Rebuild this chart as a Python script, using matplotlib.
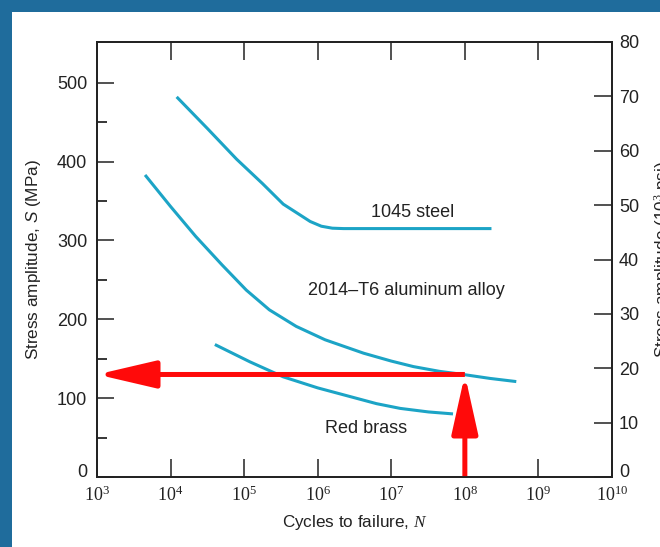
import numpy as np
import matplotlib
matplotlib.use("Agg")
import matplotlib.pyplot as plt
import matplotlib.transforms as mtransforms
from matplotlib.patches import Rectangle
from matplotlib.ticker import FixedLocator, FixedFormatter, NullFormatter

plt.rcParams['font.family'] = ['Liberation Sans', 'DejaVu Sans']
plt.rcParams['mathtext.fontset'] = 'custom'
plt.rcParams['mathtext.rm'] = 'Liberation Serif'
plt.rcParams['mathtext.it'] = 'Liberation Serif:italic'
plt.rcParams['mathtext.sf'] = 'Liberation Sans:italic'

# ---- data ----
steel_N = [1.21e4, 3.16e4, 7.9e4, 1.78e5, 3.4e5, 5.6e5, 7.9e5,
           1.12e6, 1.58e6, 2.24e6, 2.3e8]
steel_S = [482, 442, 403, 372, 346, 333, 324, 318, 315.5, 315, 315]

alu_N = [4.5e3, 1.0e4, 2.2e4, 5.0e4, 1.07e5, 2.2e5, 5.1e5, 1.26e6,
         4.2e6, 1.0e7, 2.0e7, 4.5e7, 9.5e7, 2.2e8, 5.0e8]
alu_S = [383, 343, 305, 269, 237, 212, 191, 174,
         157, 147, 140, 134, 130, 125, 121]

brass_N = [4.0e4, 1.2e5, 3.4e5, 1.0e6, 2.75e6, 6.3e6, 1.32e7, 3.2e7, 6.9e7]
brass_S = [168, 146, 127, 113, 102, 93, 87, 82.5, 80]

labels = ["1045 steel", "2014\u2013T6 aluminum alloy", "Red brass"]
label_N = [1.95e7, 1.6e7, 4.5e6]
label_S = [335, 237, 61]

arrow_N = 1e8
arrow_S = 130

x_ticks = [1e3, 1e4, 1e5, 1e6, 1e7, 1e8, 1e9, 1e10]
x_ticklabels = [r'$10^{3}$', r'$10^{4}$', r'$10^{5}$', r'$10^{6}$',
                r'$10^{7}$', r'$10^{8}$', r'$10^{9}$', r'$10^{10}$']
y_major = [0, 100, 200, 300, 400, 500]
y_minor = [50, 150, 250, 350, 450]
ksi_ticks = [0, 10, 20, 30, 40, 50, 60, 70, 80]
MPA_PER_KSI = 6.895

# ---- figure ----
fig = plt.figure(figsize=(6.6, 5.47), dpi=100)
fig.patch.set_facecolor('#1f6c9c')

bg = fig.add_axes([0, 0, 1, 1], zorder=-10)
bg.set_xlim(0, 660)
bg.set_ylim(547, 0)
bg.axis('off')
bg.add_patch(Rectangle((12, 12), 660, 547, facecolor='white', edgecolor='none'))

ax = fig.add_axes([97 / 660, 70 / 547, 515 / 660, 435 / 547])
ax.set_facecolor('white')
ax.set_xscale('log')
ax.set_xlim(1e3, 1e10)
ax.set_ylim(0, 80 * MPA_PER_KSI)

curve_color = '#1ca4c6'
for xs, ys in [(steel_N, steel_S), (alu_N, alu_S), (brass_N, brass_S)]:
    ax.plot(xs, ys, color=curve_color, lw=2.2, solid_capstyle='butt',
            solid_joinstyle='round')

for t, n, s in zip(labels, label_N, label_S):
    ax.text(n, s, t, ha='center', va='center', fontsize=13, color='#222222')

# red arrows
red = '#ff0a0a'
ax.annotate('', xy=(1e3, arrow_S), xytext=(arrow_N, arrow_S),
            arrowprops=dict(arrowstyle='-|>,head_length=1.8,head_width=0.42',
                            mutation_scale=20, color=red, lw=3.6,
                            joinstyle='round', capstyle='butt',
                            shrinkA=0, shrinkB=0), zorder=5)
ax.annotate('', xy=(arrow_N, arrow_S), xytext=(arrow_N, 0),
            arrowprops=dict(arrowstyle='-|>,head_length=1.8,head_width=0.4',
                            mutation_scale=20, color=red, lw=3.6,
                            joinstyle='round', capstyle='butt',
                            shrinkA=0, shrinkB=0), zorder=5)

# axes styling
for sp in ax.spines.values():
    sp.set_linewidth(1.3)
    sp.set_color('#222222')

ax.xaxis.set_major_locator(FixedLocator(x_ticks))
ax.xaxis.set_major_formatter(FixedFormatter(x_ticklabels))
ax.xaxis.set_minor_locator(FixedLocator([]))
ax.yaxis.set_major_locator(FixedLocator(y_major))
ax.yaxis.set_minor_locator(FixedLocator(y_minor))
ax.yaxis.set_minor_formatter(NullFormatter())

ax.tick_params(axis='x', which='major', direction='in', length=13, width=1.1,
               top=True, labeltop=False, pad=6, labelsize=13, colors='#222222')
ax.tick_params(axis='y', which='major', direction='in', length=12, width=1.1,
               right=False, pad=7, labelsize=13, colors='#222222')
ax.tick_params(axis='y', which='minor', direction='in', length=7, width=1.1,
               right=False)

ax.set_xlabel(r'Cycles to failure, $N$', fontsize=12.3, labelpad=6,
              color='#222222')
ax.set_ylabel(r'Stress amplitude, $\mathsf{S}$ (MPa)', fontsize=12.3,
              labelpad=10, color='#222222')

ax2 = ax.twinx()
ax2.set_ylim(0, 80)
ax2.yaxis.set_major_locator(FixedLocator(ksi_ticks))
ax2.tick_params(axis='y', direction='in', length=13, width=1.1, pad=5,
                labelsize=13, colors='#222222')
ax2.set_ylabel(r'Stress amplitude (10$^{3}$ psi)', fontsize=12.3,
               labelpad=9, color='#222222')
for sp in ax2.spines.values():
    sp.set_linewidth(1.3)
    sp.set_color('#222222')

# lift the two "0" labels slightly, as in the reference
fig.canvas.draw()
shift = mtransforms.ScaledTranslation(0, 5 / 72, fig.dpi_scale_trans)
for a in (ax, ax2):
    lab = a.yaxis.get_majorticklabels()[0]
    lab.set_transform(lab.get_transform() + shift)

fig.savefig('out.png', dpi=100, facecolor=fig.get_facecolor())
